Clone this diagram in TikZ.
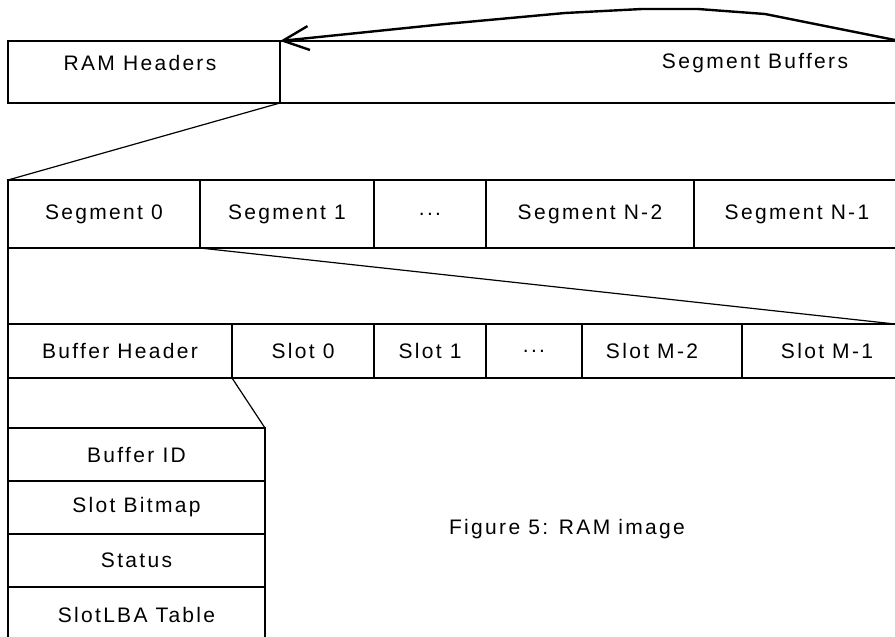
\documentclass[tikz,border=0pt]{standalone}
\usepackage{fontspec}
\setmainfont{Liberation Sans}[LetterSpace=11]
\usetikzlibrary{arrows.meta}
\begin{document}
\begin{tikzpicture}[x=1pt,y=-1pt,
  cell/.style={draw, line width=1.2pt, anchor=north west, inner sep=0pt, outer sep=0pt},
  lbl/.style={inner sep=0pt},
  conn/.style={line width=1.2pt},
  every node/.append style={font=\fontsize{21}{24}\selectfont}]
\useasboundingbox (0,0) rectangle (895,637);
\clip (0,0) rectangle (895,637);
% top row
\node[cell, minimum width=272pt, minimum height=62pt] (ramh) at (8,41) {};
\node[cell, minimum width=620pt, minimum height=62pt] (segb) at (280,41) {};
\node[lbl] (ramhT) at (140,63) {RAM Headers};
\node[lbl] (segbT) at (755,63) {Segment Buffers};
% segment row
\node[cell, minimum width=192pt, minimum height=68pt] (s0) at (8,180) {Segment 0};
\node[cell, minimum width=174pt, minimum height=68pt] (s1) at (200,180) {Segment 1};
\node[cell, minimum width=112pt, minimum height=68pt] (sd) at (374,180) {...};
\node[cell, minimum width=208pt, minimum height=68pt] (s2) at (486,180) {Segment N-2};
\node[cell, minimum width=206pt, minimum height=68pt] (s3) at (694,180) {Segment N-1};
% slot row
\node[cell, minimum width=224pt, minimum height=54pt] (bh) at (8,324) {Buffer Header};
\node[cell, minimum width=142pt, minimum height=54pt] (sl0) at (232,324) {Slot 0};
\node[cell, minimum width=112pt, minimum height=54pt] (sl1) at (374,324) {Slot 1};
\node[cell, minimum width=96pt, minimum height=54pt] (sld) at (486,324) {...};
\node[cell, minimum width=160pt, minimum height=54pt] (slm2) at (582,324) {Slot M-2\hspace*{20pt}};
\node[cell, minimum width=158pt, minimum height=54pt] (slm1) at (742,324) {\hspace*{12pt}Slot M-1};
% header stack
\node[cell, minimum width=257pt, minimum height=53pt] (bid) at (8,428) {Buffer ID};
\node[cell, minimum width=257pt, minimum height=53pt] (bmp) at (8,481) {Slot Bitmap};
\node[cell, minimum width=257pt, minimum height=53pt] (st) at (8,534) {Status};
\node[cell, minimum width=257pt, minimum height=56pt] (lba) at (8,587) {SlotLBA Table};
% caption
\node[lbl] (cap) at (567,529) {Figure 5: RAM image};
% left edges of the gaps
\draw[conn] (s0.south west) -- (bh.north west);
\draw[conn] (bh.south west) -- (bid.north west);
% zoom lines
\coordinate (slotEnd) at (895,324);
\draw[conn] (ramh.south east) -- (s0.north west);
\draw[conn] (s0.south east) -- (slotEnd);
\draw[conn] (bh.south east) -- (bid.north east);
% arrow
\coordinate (arrStart) at (895,40);
\draw[line width=2.4pt, line cap=round, line join=round, -{Straight Barb[length=26pt,width=24pt,line width=2.4pt]}]
  (arrStart) -- (765,14) -- (698,9) -- (642,9) -- (565,13) -- (445,24) -- (ramh.north east);
\end{tikzpicture}
\end{document}
